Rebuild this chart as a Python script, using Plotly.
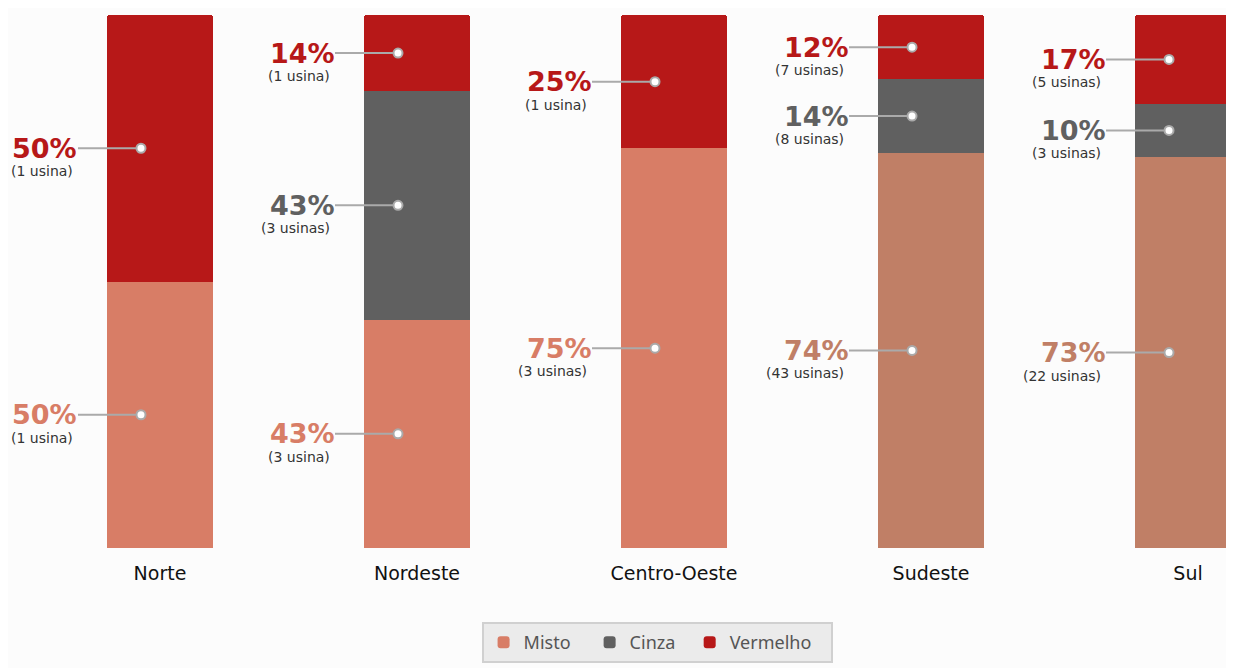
import plotly.graph_objects as go

regions = ["Norte", "Nordeste", "Centro-Oeste", "Sudeste", "Sul"]
misto = [1, 3, 3, 43, 22]
cinza = [0, 3, 0, 8, 3]
vermelho = [1, 1, 1, 7, 5]

misto_labels = ["(1 usina)", "(3 usina)", "(3 usinas)", "(43 usinas)", "(22 usinas)"]
cinza_labels = ["", "(3 usinas)", "", "(8 usinas)", "(3 usinas)"]
vermelho_labels = ["(1 usina)", "(1 usina)", "(1 usina)", "(7 usinas)", "(5 usinas)"]
legend_names = ["Misto", "Cinza", "Vermelho"]

C_MISTO = ["#D87D66", "#D87D66", "#D87D66", "#C07F66", "#C07F66"]
C_CINZA = "#606060"
C_VERM = "#B71818"

NB = "\u00a0"
fig = go.Figure()
fig.add_trace(go.Bar(name=legend_names[0] + NB * 3, x=regions, y=misto,
                     marker=dict(color=C_MISTO, line=dict(width=0))))
fig.add_trace(go.Bar(name=legend_names[1] + NB * 2, x=regions, y=cinza,
                     marker=dict(color=C_CINZA, line=dict(width=0))))
fig.add_trace(go.Bar(name=legend_names[2] + NB * 3, x=regions, y=vermelho,
                     marker=dict(color=C_VERM, line=dict(width=0))))

series = [
    (misto, misto_labels, C_MISTO),
    (cinza, cinza_labels, [C_CINZA] * 5),
    (vermelho, vermelho_labels, [C_VERM] * 5),
]
totals = [sum(v) for v in zip(misto, cinza, vermelho)]

for i, reg in enumerate(regions):
    base = 0.0
    for vals, labs, cols in series:
        pct = 100.0 * vals[i] / totals[i]
        if vals[i] > 0:
            mid = base + pct / 2
            fig.add_shape(type="line", xref="x", yref="y", xsizemode="pixel", xanchor=reg,
                          x0=-82, x1=-19, y0=mid, y1=mid,
                          line=dict(color="#AAAAAA", width=2))
            fig.add_shape(type="circle", xref="x", yref="y", xsizemode="pixel", ysizemode="pixel",
                          xanchor=reg, yanchor=mid, x0=-23.5, x1=-14.5, y0=-4.5, y1=4.5,
                          fillcolor="#FFFFFF", line=dict(color="#AAAAAA", width=2))
            fig.add_annotation(x=reg, y=mid, xref="x", yref="y", text="<b>%d%%</b>" % round(pct),
                               showarrow=False, xanchor="right", yanchor="middle", xshift=-80.5, yshift=0,
                               font=dict(family="DejaVu Sans", size=27, color=cols[i]))
            fig.add_annotation(x=reg, y=mid, xref="x", yref="y", text=labs[i],
                               showarrow=False, xanchor="right", yanchor="middle", xshift=-85, yshift=-23,
                               font=dict(family="DejaVu Sans", size=14, color="#333333"))
        base += pct

fig.update_layout(
    width=1234, height=668,
    barmode="stack", barnorm="percent", bargap=0.584, barcornerradius=3,
    paper_bgcolor="#FCFCFC", plot_bgcolor="#FCFCFC",
    margin=dict(l=0, r=0, t=7, b=128),
    showlegend=True,
    legend=dict(orientation="h", x=0.526, xanchor="center", y=-0.139, yanchor="top",
                bgcolor="#EBEBEB", bordercolor="#D0D0D0", borderwidth=2,
                font=dict(family="Noto Sans", size=18, color="#555555"),
                traceorder="normal", itemwidth=30),
    xaxis=dict(range=[-0.5914, 4.210], showgrid=False, zeroline=False, showline=False,
               ticks="", ticklabelstandoff=12,
               tickfont=dict(family="DejaVu Sans", size=19, color="#111111")),
    yaxis=dict(range=[0, 100], showgrid=False, zeroline=False, showline=False,
               showticklabels=False),
)

fig.write_html("out.html")
